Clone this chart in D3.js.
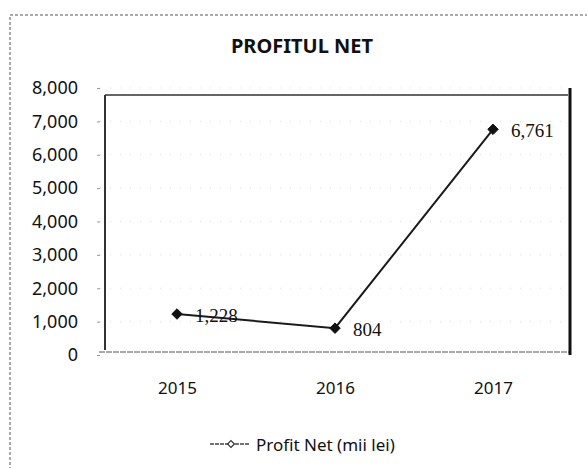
<!DOCTYPE html>
<html>
<head>
<meta charset="utf-8">
<script src="https://cdn.jsdelivr.net/npm/d3@7"></script>
<style>
	body { margin: 0; background: #fff; }
	svg { display: block; }
	text { font-family: "Noto Sans", sans-serif; fill: #111; }
</style>
</head>
<body>
<svg width="587" height="468"></svg>
<script>
// --- Data ---
const years = ["2015", "2016", "2017"];
const profitNet = [1228, 804, 6761];
const yTicks = [0, 1000, 2000, 3000, 4000, 5000, 6000, 7000, 8000];
const chartTitle = "PROFITUL NET";
const seriesName = "Profit Net (mii lei)";

const svg = d3.select("svg");

// white page + dashed scan border
svg.append("rect").attr("width", 587).attr("height", 468).attr("fill", "#fff");
svg.append("rect")
	.attr("x", 10).attr("y", 15)
	.attr("width", 640).attr("height", 520)
	.attr("fill", "none")
	.attr("stroke", "#555")
	.attr("stroke-width", 1)
	.attr("stroke-dasharray", "3,2");

// --- Scales ---
const x = d3.scalePoint().domain(years).range([177, 493]);
const y = d3.scaleLinear().domain([0, 8000]).range([355, 88]);

// --- Title ---
svg.append("text")
	.attr("x", 302).attr("y", 45)
	.attr("text-anchor", "middle")
	.attr("dominant-baseline", "central")
	.style("font-size", "20px")
	.style("font-weight", "bold")
	.attr("fill", "#000")
	.text(chartTitle);

// --- Gridlines (very faint, dotted like the scan) ---
svg.append("g")
	.selectAll("line")
	.data(yTicks.filter((d) => d > 0))
	.join("line")
	.attr("x1", 100).attr("x2", 566)
	.attr("y1", (d) => y(d)).attr("y2", (d) => y(d))
	.attr("stroke", "#dcdcdc")
	.attr("stroke-width", 1)
	.attr("stroke-dasharray", "1,9");

// --- Plot frame ---
const frame = svg.append("g");
frame.append("line") // left
	.attr("x1", 105).attr("x2", 105).attr("y1", 95).attr("y2", 350)
	.attr("stroke", "#333").attr("stroke-width", 2);
frame.append("line") // top
	.attr("x1", 105).attr("x2", 568).attr("y1", 95).attr("y2", 95)
	.attr("stroke", "#333").attr("stroke-width", 1.5);
frame.append("line") // bottom
	.attr("x1", 99).attr("x2", 570).attr("y1", 352).attr("y2", 352)
	.attr("stroke", "#555").attr("stroke-width", 1)
	.attr("stroke-dasharray", "6,1");
frame.append("line") // right
	.attr("x1", 570).attr("x2", 570).attr("y1", 88).attr("y2", 355)
	.attr("stroke", "#111").attr("stroke-width", 3);

// --- Axes ---
const yAxis = svg.append("g")
	.attr("transform", "translate(100,0)")
	.call(
		d3.axisLeft(y)
			.tickValues(yTicks)
			.tickFormat(d3.format(","))
			.tickSize(3)
			.tickSizeOuter(0)
			.tickPadding(19)
	);
yAxis.select(".domain").remove();
yAxis.selectAll(".tick line").attr("stroke", "#999");
yAxis.selectAll("text")
	.style("font-size", "18px")
	.style("font-family", "'Noto Sans', sans-serif")
	.attr("fill", "#000");

const xAxis = svg.append("g")
	.attr("transform", "translate(0,352)")
	.call(d3.axisBottom(x).tickSize(0).tickPadding(30));
xAxis.select(".domain").remove();
xAxis.selectAll("text")
	.style("font-size", "17px")
	.style("font-family", "'Noto Sans', sans-serif")
	.attr("fill", "#000");

// --- Series ---
const points = years.map((yr, i) => ({ year: yr, value: profitNet[i] }));

svg.append("path")
	.datum(points)
	.attr("fill", "none")
	.attr("stroke", "#1a1a1a")
	.attr("stroke-width", 2)
	.attr("d", d3.line().x((d) => x(d.year)).y((d) => y(d.value)));

const diamond = d3.symbol().type(d3.symbolDiamond2).size(70);

svg.append("g")
	.selectAll("path")
	.data(points)
	.join("path")
	.attr("d", diamond)
	.attr("transform", (d) => `translate(${x(d.year)},${y(d.value)})`)
	.attr("fill", "#111")
	.attr("stroke", "#111")
	.attr("stroke-width", 1);

svg.append("g")
	.selectAll("text")
	.data(points)
	.join("text")
	.attr("x", (d) => x(d.year) + 18)
	.attr("y", (d) => y(d.value) + 1)
	.attr("dominant-baseline", "central")
	.style("font-family", "'Liberation Serif', serif")
	.style("font-size", "19px")
	.text((d) => d3.format(",")(d.value));

// --- Legend ---
const legend = svg.append("g").attr("transform", "translate(210,444)");
legend.append("line")
	.attr("x1", 0).attr("x2", 40)
	.attr("stroke", "#444").attr("stroke-width", 1.5)
	.attr("stroke-dasharray", "4,1");
legend.append("path")
	.attr("d", d3.symbol().type(d3.symbolDiamond2).size(30))
	.attr("transform", "translate(21,0)")
	.attr("fill", "#fff")
	.attr("stroke", "#333")
	.attr("stroke-width", 1.2);
legend.append("text")
	.attr("x", 46)
	.attr("dominant-baseline", "central")
	.style("font-size", "17px")
	.attr("fill", "#111")
	.text(seriesName);
</script>
</body>
</html>
